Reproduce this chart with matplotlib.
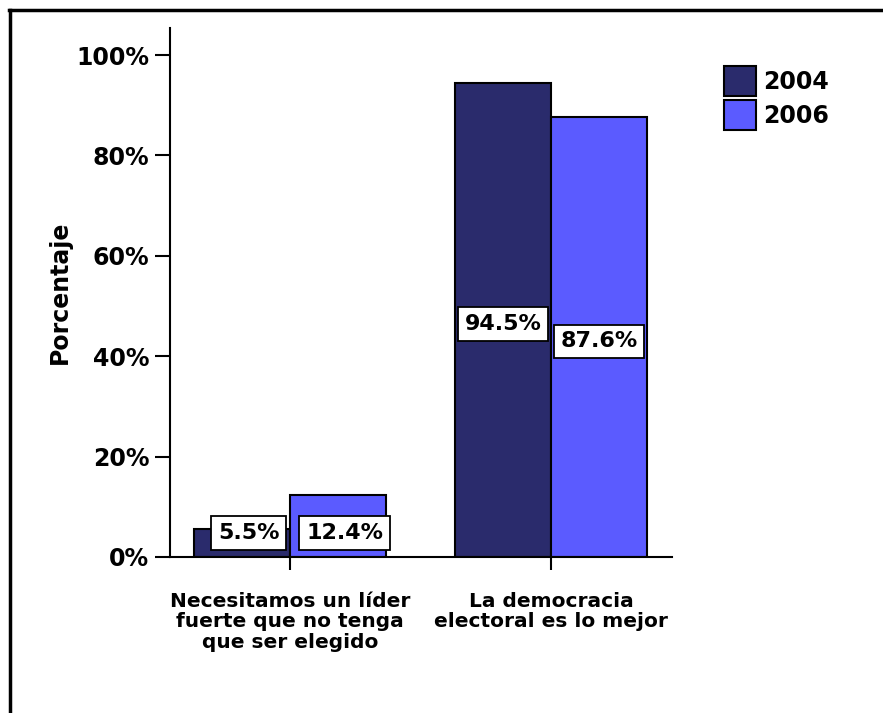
import matplotlib
matplotlib.use("Agg")
import matplotlib.pyplot as plt
from matplotlib.lines import Line2D
import numpy as np

# datos
categorias = ["Necesitamos un líder\nfuerte que no tenga\nque ser elegido",
              "La democracia\nelectoral es lo mejor"]
anios = ["2004", "2006"]
valores_2004 = [5.5, 94.5]
valores_2006 = [12.4, 87.6]
colores = ["#2A2B6C", "#5B5BFF"]
y_ticks = [0, 20, 40, 60, 80, 100]

plt.rcParams['font.family'] = ['DejaVu Sans']
plt.rcParams['font.weight'] = 'bold'

W, H = 883, 713
fig = plt.figure(figsize=(W / 100, H / 100), dpi=100)
ax = fig.add_axes([170 / W, 1 - 557 / H, (672 - 170) / W, (557 - 28) / H])

x = np.arange(len(categorias))
ancho = 0.368
series = [valores_2004, valores_2006]
for i, (vals, col, lab) in enumerate(zip(series, colores, anios)):
    pos = x + (i - 0.5) * ancho
    ax.bar(pos, vals, width=ancho, color=col, edgecolor="black",
           linewidth=1.5, label=lab, zorder=2)
    for px, v in zip(pos, vals):
        # barras chicas: etiqueta abajo, barras grandes: al medio
        y_et = v / 2 - 0.8 if v > 20 else 4.8
        dx = 0.025 if v < 20 else 0
        ax.text(px + dx, y_et, f"{v:.1f}%", ha="center", va="center",
                fontsize=16, fontweight="bold", zorder=3,
                bbox=dict(boxstyle="square,pad=0.3", fc="white", ec="black", lw=1.3))

ax.set_xlim(-0.46, 1.464)
ax.set_ylim(0, 105.4)
ax.set_xticks(x)
ax.set_xticklabels(categorias, fontsize=14.5, fontweight="bold", linespacing=1.07)
ax.set_yticks(y_ticks)
ax.set_yticklabels([f"{t}%" for t in y_ticks], fontsize=17, fontweight="bold")
ax.tick_params(axis="y", direction="out", length=11, width=1.5, pad=4)
ax.tick_params(axis="x", direction="out", length=9.5, width=1.5, pad=16)
for s in ["top", "right"]:
    ax.spines[s].set_visible(False)
for s in ["left", "bottom"]:
    ax.spines[s].set_linewidth(1.5)
ax.set_ylabel("Porcentaje", fontsize=17, fontweight="bold", labelpad=3)

ax.legend(loc="upper left", bbox_to_anchor=(724 / W, 1 - 66 / H),
          bbox_transform=fig.transFigure, frameon=False, fontsize=17,
          handlelength=1.35, handleheight=1.6, handletextpad=0.3,
          labelspacing=0.15, borderpad=0, borderaxespad=0)

# marco del dibujo
fig.add_artist(Line2D([9.5 / W, 9.5 / W], [0, 1 - 10 / H], transform=fig.transFigure,
                      color="black", lw=2.5))
fig.add_artist(Line2D([8.5 / W, 1], [1 - 10 / H, 1 - 10 / H], transform=fig.transFigure,
                      color="black", lw=2.5))

fig.savefig("out.png", dpi=100)
